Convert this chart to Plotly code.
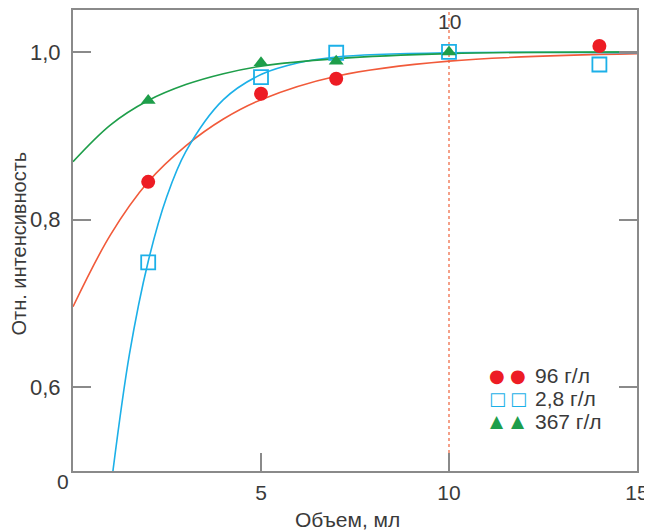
import plotly.graph_objects as go

# --- measured data points ---
x_96 = [2, 5, 7, 14]
y_96 = [0.845, 0.950, 0.968, 1.007]

x_28 = [2, 5, 7, 10, 14]
y_28 = [0.749, 0.970, 0.999, 1.000, 0.985]

x_367 = [2, 5, 7, 10]
y_367 = [0.942, 0.987, 0.989, 1.000]

# --- fitted curves ---
cx_96 = [0, 1, 2, 3, 4, 5, 7, 10, 15]
cy_96 = [0.696, 0.782, 0.845, 0.888, 0.920, 0.943, 0.971, 0.989, 0.998]

cx_28 = [1.0, 1.5, 2, 2.5, 3, 4, 5, 6, 7, 10, 15]
cy_28 = [0.478, 0.639, 0.750, 0.828, 0.881, 0.943, 0.973, 0.987, 0.994, 0.999, 0.999]

cx_367 = [0, 1, 2, 3, 4, 5, 7, 10, 15]
cy_367 = [0.869, 0.913, 0.942, 0.961, 0.974, 0.983, 0.992, 0.998, 1.000]

names = ["96 г/л", "2,8 г/л", "367 г/л"]
x_ticks = [5, 10, 15]
y_ticks = [0.6, 0.8, 1.0]
y_ticklabels = ["0,6", "0,8", "1,0"]

RED_M = "#ed1c24"
RED_L = "#f15a3a"
BLUE = "#1cb0e8"
GREEN = "#1e9e4a"
AXIS = "#8a8a8a"
TXT = "#3a3a3a"
FONT = "Liberation Sans, Arial, sans-serif"
FS = 21

fig = go.Figure()

for cx, cy, col in [(cx_96, cy_96, RED_L), (cx_28, cy_28, BLUE), (cx_367, cy_367, GREEN)]:
    fig.add_trace(go.Scatter(x=cx, y=cy, mode="lines", line=dict(color=col, width=1.6, shape="spline"),
                             showlegend=False, hoverinfo="skip"))

fig.add_trace(go.Scatter(x=x_96, y=y_96, mode="markers", name=names[0], showlegend=False,
                         marker=dict(symbol="circle", size=14, color=RED_M, line=dict(width=0))))
fig.add_trace(go.Scatter(x=x_28, y=y_28, mode="markers", name=names[1], showlegend=False,
                         marker=dict(symbol="square-open", size=14, color=BLUE, line=dict(width=1.8))))
fig.add_trace(go.Scatter(x=x_367, y=y_367, mode="markers", name=names[2], showlegend=False,
                         marker=dict(symbol="triangle-up", size=13, color=GREEN, line=dict(width=0))))

fig.add_shape(type="line", xref="x", yref="paper", x0=10, x1=10, y0=0, y1=1,
              line=dict(color="#f5a088", width=2, dash="dot"), layer="below")

fig.add_annotation(x=10, y=1, xref="x", yref="paper", text="10", showarrow=False,
                   yanchor="top", yshift=2, font=dict(size=FS, color=TXT, family=FONT))
fig.add_annotation(x=0, y=0, xref="x", yref="paper", text="0", showarrow=False,
                   xanchor="center", yanchor="top", xshift=-10, yshift=3,
                   font=dict(size=FS, color=TXT, family=FONT))

# axis titles
fig.add_annotation(x=0, y=0.5, xref="paper", yref="paper", text="Отн. интенсивность",
                   showarrow=False, textangle=-90, xanchor="center", yanchor="middle",
                   xshift=-55, yshift=-3, font=dict(size=20, color=TXT, family=FONT))
fig.add_annotation(x=0.5, y=0, xref="paper", yref="paper", text="Объем, мл",
                   showarrow=False, xanchor="center", yanchor="middle",
                   xshift=-8, yshift=-48, font=dict(size=FS, color=TXT, family=FONT))

# legend (two symbols per entry, as in the original)
leg_symbols = ["●", "□", "▲"]
leg_colors = [RED_M, BLUE, GREEN]
leg_sizes = [18, 18, 17]
row_y = [96, 73, 50]          # pixels above the x axis
for sym, col, sz, ry, name in zip(leg_symbols, leg_colors, leg_sizes, row_y, names):
    for mx in (424, 445):
        fig.add_annotation(x=0, y=0, xref="paper", yref="paper", text=sym, showarrow=False,
                           xanchor="center", yanchor="middle", xshift=mx, yshift=ry,
                           font=dict(size=sz, color=col, family="DejaVu Sans"))
    fig.add_annotation(x=0, y=0, xref="paper", yref="paper", text=name, showarrow=False,
                       xanchor="left", yanchor="middle", xshift=460, yshift=ry,
                       font=dict(size=FS, color=TXT, family=FONT))

fig.update_layout(
    width=652, height=531,
    margin=dict(l=65, r=23, t=2, b=68, autoexpand=False),
    paper_bgcolor="white", plot_bgcolor="white",
    font=dict(family=FONT, size=FS, color=TXT),
    showlegend=False,
    xaxis=dict(range=[0, 15], tickvals=x_ticks, ticks="inside", ticklen=18, tickwidth=2,
               tickcolor=AXIS, showline=True, linecolor=AXIS, linewidth=2, mirror=True,
               showgrid=False, zeroline=False, automargin=False, ticklabelstandoff=2,
               tickfont=dict(size=FS, color=TXT, family=FONT)),
    yaxis=dict(range=[0.5, 1.05], tickvals=y_ticks, ticktext=y_ticklabels, ticks="inside",
               ticklen=18, tickwidth=2, tickcolor=AXIS, showline=True, linecolor=AXIS,
               linewidth=2, mirror="ticks", showgrid=False, zeroline=False, automargin=False,
               ticklabelstandoff=6, tickfont=dict(size=FS + 1, color=TXT, family=FONT)),
)

fig.write_html("out.html")
